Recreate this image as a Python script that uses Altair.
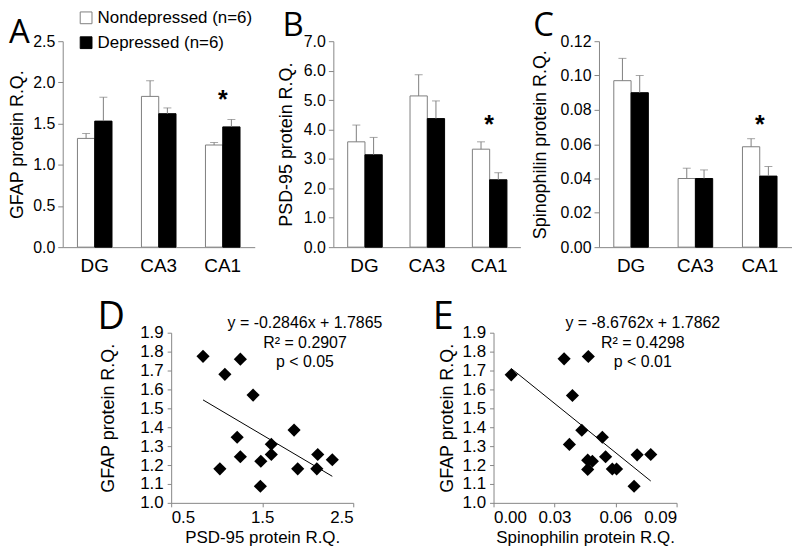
import altair as alt
import pandas as pd

# ---------------- data ----------------
regions = ["DG", "CA3", "CA1"]
groups = ["Nondepressed (n=6)", "Depressed (n=6)"]

gfap_nd = [1.32, 1.83, 1.24]
gfap_nd_err = [0.06, 0.19, 0.03]
gfap_d = [1.53, 1.62, 1.46]
gfap_d_err = [0.29, 0.07, 0.09]
gfap_ticks = [0.0, 0.5, 1.0, 1.5, 2.0, 2.5]

psd_nd = [3.58, 5.14, 3.33]
psd_nd_err = [0.57, 0.72, 0.25]
psd_d = [3.14, 4.37, 2.29]
psd_d_err = [0.59, 0.60, 0.24]
psd_ticks = [0.0, 1.0, 2.0, 3.0, 4.0, 5.0, 6.0, 7.0]

spin_nd = [0.097, 0.040, 0.0585]
spin_nd_err = [0.013, 0.006, 0.0047]
spin_d = [0.090, 0.040, 0.0414]
spin_d_err = [0.010, 0.005, 0.0056]
spin_ticks = [0.0, 0.02, 0.04, 0.06, 0.08, 0.10, 0.12]

star_region = "CA1"
star_vals = [1.81, 4.21, 0.0722]

# scatter D: PSD-95 vs GFAP
d_psd = [0.85, 1.26, 1.09, 1.40, 1.85, 1.225, 1.60, 1.26, 1.60, 1.485, 2.11, 2.27, 1.035, 1.89, 2.10, 1.48]
d_gfap = [1.775, 1.76, 1.68, 1.57, 1.385, 1.347, 1.31, 1.244, 1.256, 1.22, 1.256, 1.228, 1.18, 1.18, 1.18, 1.088]
# scatter E: Spinophilin vs GFAP
e_spin = [0.0087, 0.0347, 0.0466, 0.0388, 0.0434, 0.0535, 0.0373, 0.0551, 0.0706, 0.0773, 0.0463, 0.0486, 0.0463, 0.0584, 0.0605, 0.0691]
e_gfap = [1.677, 1.762, 1.774, 1.568, 1.384, 1.347, 1.309, 1.244, 1.254, 1.256, 1.226, 1.22, 1.177, 1.179, 1.179, 1.088]

d_slope, d_intercept = -0.2846, 1.7865
e_slope, e_intercept = -8.6762, 1.7862
d_eq = ["y = -0.2846x + 1.7865", "R\u00b2 = 0.2907", "p < 0.05"]
e_eq = ["y = -8.6762x + 1.7862", "R\u00b2 = 0.4298", "p < 0.01"]
eq_rows = [1.953, 1.845, 1.745]
scatter_y_ticks = [1.0, 1.1, 1.2, 1.3, 1.4, 1.5, 1.6, 1.7, 1.8, 1.9]
d_x_ticks = [0.5, 1.5, 2.5]
e_x_ticks = [0.0, 0.03, 0.06, 0.09]

panel_letters = ["A", "B", "C", "D", "E"]

FONT = "Liberation Sans"
LETTER_FONT = "Open Sans"
GREY = "#7f7f7f"
AXIS_GREY = "#868686"


def bar_panel(nd, nd_err, d, d_err, ymax, yticks, fmt, title, star_val, letter,
              ldx, ldy, tpad, width, show_legend):
    df = pd.DataFrame({
        "region": regions * 2,
        "group": [groups[0]] * 3 + [groups[1]] * 3,
        "mean": nd + d,
        "err": nd_err + d_err,
    })
    base = alt.Chart(df).transform_calculate(upper="datum.mean + datum.err")
    x = alt.X("region:N", sort=regions,
              scale=alt.Scale(paddingInner=0.46, paddingOuter=0.23),
              axis=alt.Axis(title=None, labelAngle=0, ticks=False, tickSize=0,
                            labelFontSize=19, labelPadding=9))
    xs = alt.X("region:N", sort=regions)
    xo = alt.XOffset("group:N", sort=groups)
    y = alt.Y("mean:Q", scale=alt.Scale(domain=[0, ymax], nice=False),
              axis=alt.Axis(values=yticks, tickCount=50, format=fmt, title=title,
                            titlePadding=tpad, labelFontSize=16, tickSize=5,
                            labelPadding=3, titleFontSize=18, labelOverlap=False))
    if show_legend:
        leg = alt.Legend(orient="none", legendX=15, legendY=-32, title=None,
                         symbolType="square", symbolSize=140,
                         symbolStrokeColor="#555555", symbolStrokeWidth=1,
                         labelFontSize=17, labelFont=FONT, rowPadding=7,
                         labelOffset=3, labelLimit=400)
    else:
        leg = None
    fill = alt.Fill("group:N", sort=groups,
                    scale=alt.Scale(domain=groups, range=["white", "black"]),
                    legend=leg)
    stroke = alt.Stroke("group:N", sort=groups,
                        scale=alt.Scale(domain=groups, range=[GREY, "black"]),
                        legend=None)
    bars = base.mark_bar(strokeWidth=1).encode(x=x, xOffset=xo, y=y, fill=fill, stroke=stroke)
    rules = base.mark_rule(color=GREY, strokeWidth=1).encode(
        x=xs, xOffset=xo, y="mean:Q", y2="upper:Q")
    caps = base.mark_tick(color=GREY, thickness=1, size=8).encode(
        x=xs, xOffset=xo, y="upper:Q")
    star = alt.Chart(pd.DataFrame({"region": [star_region], "val": [star_val], "t": ["*"]})).mark_text(
        fontSize=25, fontWeight="bold", baseline="middle", dy=2, font=FONT
    ).encode(x=xs, y="val:Q", text="t:N")
    let = alt.Chart(pd.DataFrame({"t": [letter]})).mark_text(
        font=LETTER_FONT, fontSize=33, align="left", baseline="alphabetic"
    ).encode(x=alt.value(ldx), y=alt.value(ldy), text="t:N")
    return alt.layer(bars, rules, caps, star, let).properties(width=width, height=207)


def scatter_panel(xs, ys, xdom, xticks, xfmt, xtitle, slope, intercept, eq_lines,
                  eq_x, eq_ys, letter, ldx, ldy, tpad, width):
    df = pd.DataFrame({"x": xs, "y": ys})
    X = alt.X("x:Q", scale=alt.Scale(domain=xdom, nice=False, zero=False),
              axis=alt.Axis(values=xticks, tickCount=50, format=xfmt, title=xtitle,
                            labelFontSize=17, tickSize=4, labelPadding=3,
                            titleFontSize=17, titlePadding=4, labelOverlap=False))
    Y = alt.Y("y:Q", scale=alt.Scale(domain=[1.0, 1.9], nice=False, zero=False),
              axis=alt.Axis(values=scatter_y_ticks, tickCount=50, format=".1f",
                            title="GFAP protein R.Q.", labelFontSize=17,
                            tickSize=4, labelPadding=4, titleFontSize=18,
                            titlePadding=tpad, labelOverlap=False))
    pts = alt.Chart(df).mark_point(shape="diamond", filled=True, color="black",
                                   size=175, opacity=1).encode(x=X, y=Y)
    line = alt.Chart(df).transform_aggregate(
        xmin="min(x)", xmax="max(x)"
    ).transform_fold(["xmin", "xmax"], as_=["k", "xv"]).transform_calculate(
        yv=f"{slope}*datum.xv + {intercept}"
    ).mark_line(color="black", strokeWidth=1).encode(x="xv:Q", y="yv:Q")
    eq = alt.Chart(pd.DataFrame({"t": eq_lines, "x": [eq_x] * 3, "y": eq_ys})).mark_text(
        fontSize=16, font=FONT, baseline="middle"
    ).encode(x="x:Q", y="y:Q", text="t:N")
    let = alt.Chart(pd.DataFrame({"t": [letter]})).mark_text(
        font=LETTER_FONT, fontSize=38, align="left", baseline="alphabetic"
    ).encode(x=alt.value(ldx), y=alt.value(ldy), text="t:N")
    return alt.layer(pts, line, eq, let).properties(width=width, height=171)


def spacer(w):
    return alt.Chart(pd.DataFrame({"a": [0]})).mark_rule(color="white", opacity=0).encode(
        x=alt.value(0), x2=alt.value(w), y=alt.value(0)).properties(width=w, height=171)


A = bar_panel(gfap_nd, gfap_nd_err, gfap_d, gfap_d_err, 2.5, gfap_ticks, ".1f",
              "GFAP protein R.Q.", star_vals[0], panel_letters[0], -54, 2, 6, 193, True)
B = bar_panel(psd_nd, psd_nd_err, psd_d, psd_d_err, 7.0, psd_ticks, ".1f",
              "PSD-95 protein R.Q.", star_vals[1], panel_letters[1], -51, -5, 8, 188, False)
C = bar_panel(spin_nd, spin_nd_err, spin_d, spin_d_err, 0.12, spin_ticks, ".2f",
              "Spinophilin protein R.Q.", star_vals[2], panel_letters[2], -66, -5, 11, 194, False)

top = alt.hconcat(A, B, C, spacing=79, bounds="flush").resolve_scale(
    fill="independent", stroke="independent").resolve_legend(fill="independent", stroke="independent")

D = scatter_panel(d_psd, d_gfap, [0.5, 2.5], d_x_ticks, ".1f", "PSD-95 protein R.Q.",
                  d_slope, d_intercept, d_eq, 1.97, eq_rows,
                  panel_letters[3], -74, -4, 22, 183)
E = scatter_panel(e_spin, e_gfap, [0.0, 0.09], e_x_ticks, ".2f", "Spinophilin protein R.Q.",
                  e_slope, e_intercept, e_eq, 0.0734, eq_rows,
                  panel_letters[4], -61, -4, 6, 184)

bottom = alt.hconcat(spacer(109), D, spacer(141), E, spacing=0, bounds="flush")

chart = alt.vconcat(top, bottom, spacing=24).properties(padding=0).configure(
    font=FONT
).configure_axis(
    domainColor=AXIS_GREY, tickColor=AXIS_GREY, labelColor="black",
    titleColor="black", titleFontWeight="normal", grid=False,
    labelFont=FONT, titleFont=FONT, labelOverlap=False
).configure_view(stroke=None)

chart.save("out.html", embed_options={"renderer": "svg", "actions": False})
